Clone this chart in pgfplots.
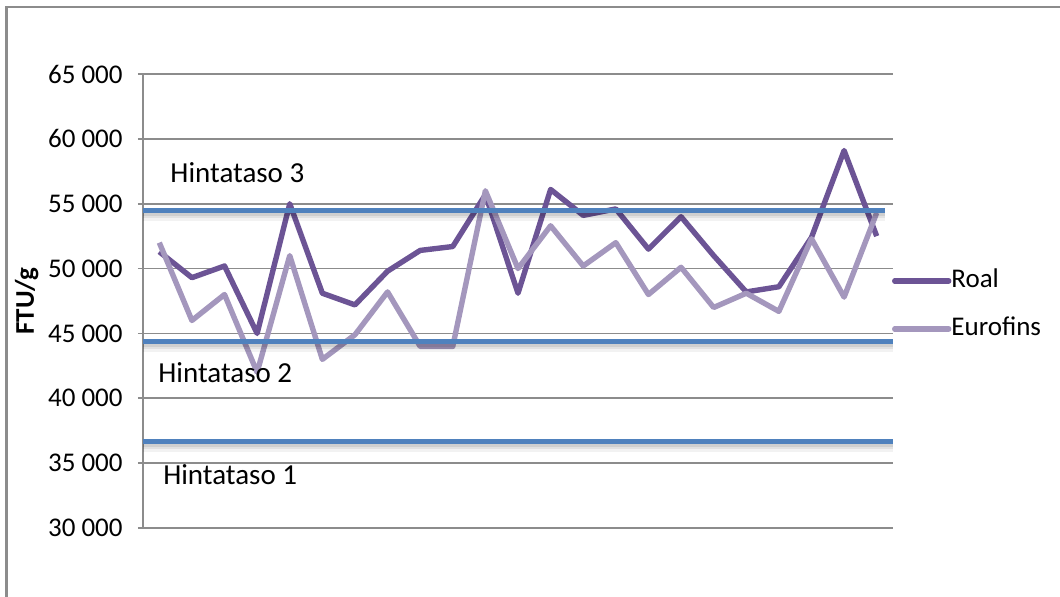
\documentclass[border=0pt]{standalone}
\usepackage{pgfplots}
\pgfplotsset{compat=1.18}
\usepackage{fontspec}
\setmainfont{Carlito}

\definecolor{roal}{HTML}{6C5495}
\definecolor{eurofins}{HTML}{A497BD}
\definecolor{levelblue}{HTML}{4F81BD}
\definecolor{gridgray}{HTML}{8C8C8C}

\pgfplotstableread{
idx roal  eurofins
1   51300 52000
2   49300 46000
3   50200 48000
4   45000 42000
5   55000 51000
6   48100 43000
7   47200 44900
8   49800 48200
9   51400 44000
10  51700 44000
11  55700 56000
12  48100 50000
13  56100 53300
14  54100 50200
15  54600 52000
16  51500 48000
17  54000 50100
18  51000 47000
19  48200 48100
20  48600 46700
21  52400 52300
22  59100 47800
23  52500 54300
}\samples

\newcommand{\ticksize}{\fontsize{13.5}{16}\selectfont}
\newcommand{\boxsize}{\fontsize{14.5}{17.4}\selectfont}

% a price level line with a soft shadow below it
\newcommand{\pricelevel}[2]{%
  \addplot[black, opacity=0.05, line width=4.5pt, yshift=-3.2pt] coordinates {(0.5,#1) (#2,#1)};
  \addplot[black, opacity=0.07, line width=3pt, yshift=-2.6pt] coordinates {(0.5,#1) (#2,#1)};
  \addplot[black, opacity=0.08, line width=1.6pt, yshift=-2pt] coordinates {(0.5,#1) (#2,#1)};
  \addplot[levelblue, line width=2.5pt] coordinates {(0.5,#1) (#2,#1)};
}

\begin{document}
\begin{tikzpicture}
\useasboundingbox (0pt,0pt) rectangle (530pt,298pt);
% outer chart frame
\draw[gridgray, line width=1.1pt] (3.25pt,-2pt) -- (3.25pt,294.5pt) -- (532pt,294.5pt);

\begin{axis}[
  at={(71.5pt,34pt)}, anchor=south west,
  scale only axis, width=375pt, height=227pt,
  xmin=0.5, xmax=23.5, ymin=30000, ymax=65000,
  axis x line=none, axis y line*=left,
  axis line style={gridgray, line width=0.8pt},
  scaled y ticks=false,
  ytick={30000,35000,40000,45000,50000,55000,60000,65000},
  yticklabels={30 000,35 000,40 000,45 000,50 000,55 000,60 000,65 000},
  yticklabel style={font=\ticksize, inner sep=0pt, anchor=east, xshift=-7.5pt},
  tick align=outside, major tick length=2.5pt,
  tick style={gridgray, line width=0.8pt},
  ymajorgrids, grid style={gridgray, line width=0.8pt},
  clip=false,
  ylabel={FTU/g},
  ylabel style={font=\ticksize\bfseries, at={(axis description cs:-0.1552,0.5)}, anchor=center, inner sep=0pt},
  legend style={at={(rel axis cs:0.9987,0.4912)}, anchor=west, draw=none, fill=none,
    inner sep=0pt, outer sep=0pt, font=\ticksize,
    nodes={inner sep=0pt, text height=9pt, text depth=3pt}, row sep=12pt},
  legend cell align=left,
  /tikz/every even column/.append style={column sep=2.5pt},
  legend image code/.code={\draw[#1, line cap=round] (0pt,0pt) -- (27pt,0pt);},
  line join=round,
]
\addplot[roal, line width=2.7pt] table[x=idx, y=roal] {\samples};
\addlegendentry{Roal}
\addplot[eurofins, line width=2.7pt] table[x=idx, y=eurofins] {\samples};
\addlegendentry{Eurofins}

\pgfplotsset{every axis plot/.append style={forget plot}}
\pricelevel{54500}{23.25}
\pricelevel{44400}{23.5}
\pricelevel{36700}{23.5}

\node[font=\boxsize, anchor=west, inner sep=0pt] at (axis cs:1.33,57400) {Hintataso 3};
\node[font=\boxsize, anchor=west, inner sep=0pt] at (axis cs:0.96,42000) {Hintataso 2};
\node[font=\boxsize, anchor=west, inner sep=0pt] at (axis cs:1.11,34100) {Hintataso 1};
\end{axis}
\end{tikzpicture}
\end{document}
